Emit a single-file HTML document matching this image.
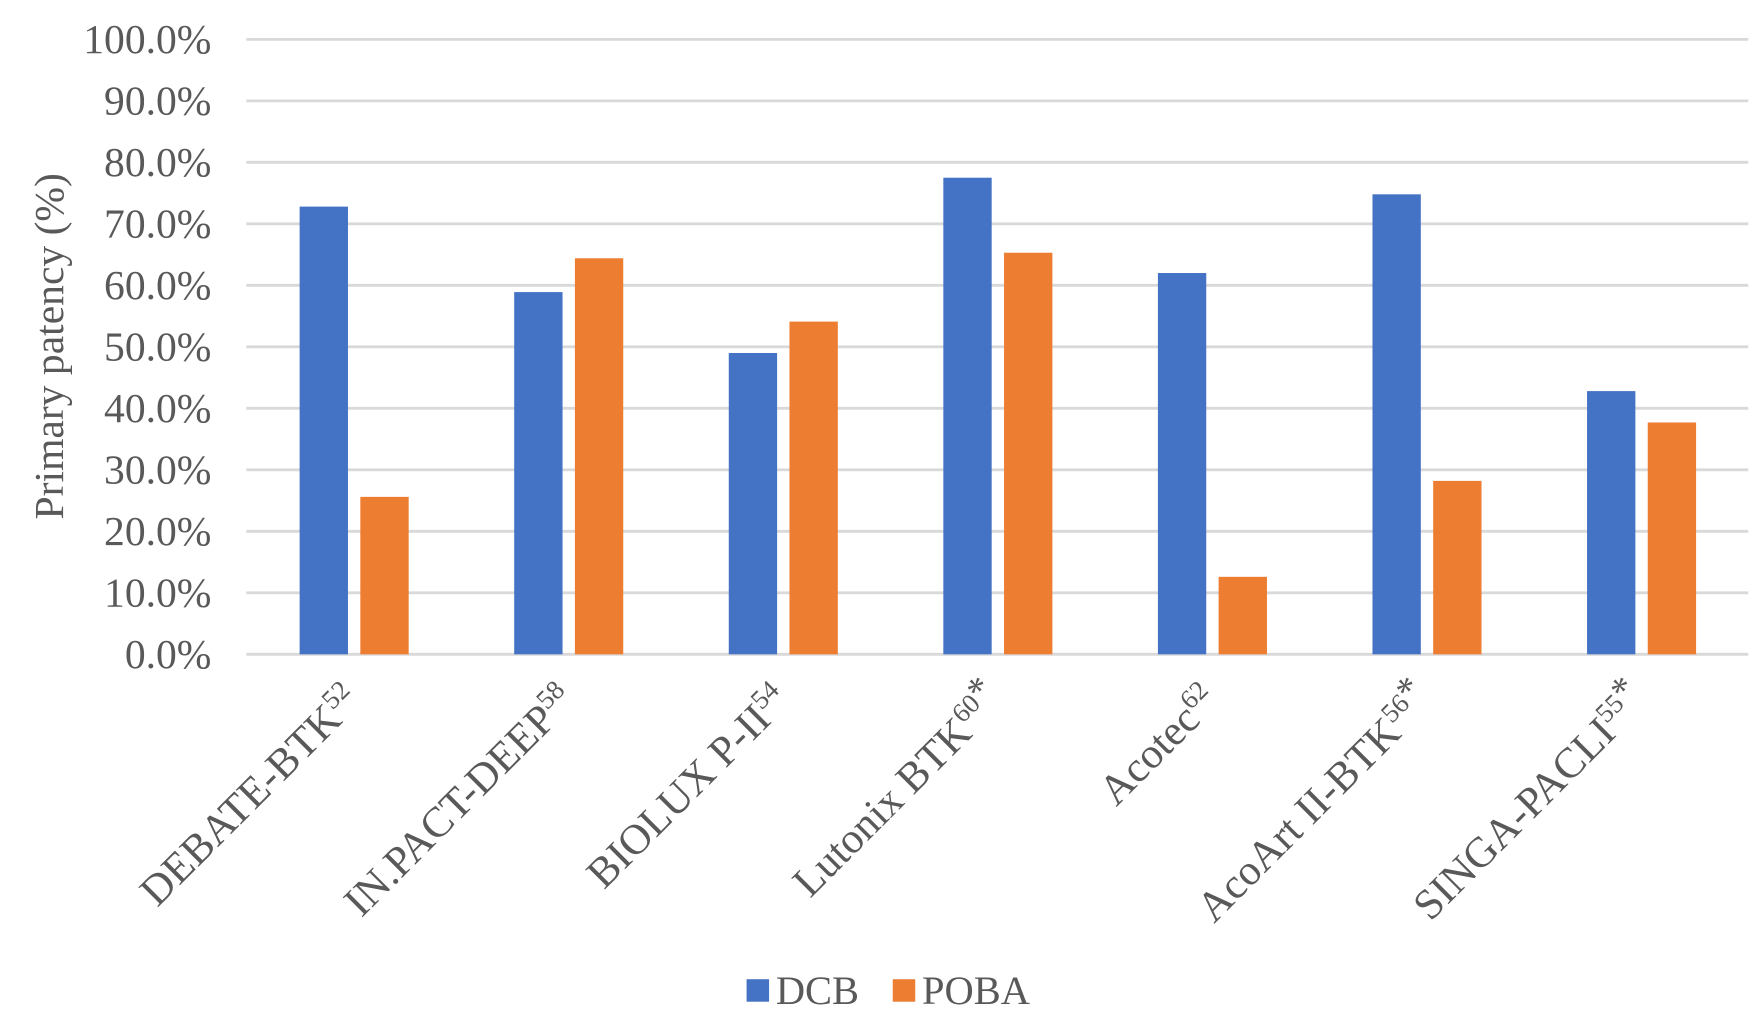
<!DOCTYPE html>
<html><head><meta charset="utf-8"><style>
html,body{margin:0;padding:0;background:#fff;}
svg text{font-family:"Liberation Serif",serif;fill:#595959;}
</style></head><body>
<svg id="chart" width="1763" height="1018" viewBox="0 0 1568 905.5" xmlns="http://www.w3.org/2000/svg"></svg>
<script>
const categories = ["DEBATE-BTK","IN.PACT-DEEP","BIOLUX P-II","Lutonix BTK","Acotec","AcoArt II-BTK","SINGA-PACLI"];
const superscripts = ["52","58","54","60","62","56","55"];
const stars = ["","","","*","","*","*"];
const dcbValues = [72.8, 58.9, 49.0, 77.5, 62.0, 74.8, 42.8];
const pobaValues = [25.6, 64.4, 54.1, 65.3, 12.6, 28.2, 37.7];
const yTicks = [0,10,20,30,40,50,60,70,80,90,100];

const svg = document.getElementById('chart');
const NS = 'http://www.w3.org/2000/svg';
const x0 = 219, x1 = 1555, yTop = 35, yBot = 582;
const yScale = v => yBot - (v/100)*(yBot-yTop);
const band = (x1-x0)/categories.length;
const xCenter = i => x0 + band*(i+0.5);
function mk(tag, attrs){const e=document.createElementNS(NS,tag);for(const k in attrs)e.setAttribute(k,attrs[k]);svg.appendChild(e);return e;}

yTicks.forEach(t=>{
  const g = mk('line',{x1:x0,x2:x1,y1:yScale(t),y2:yScale(t),stroke:'#d9d9d9','stroke-width':2.5});
  
  
  const tx = mk('text',{x:188,y:yScale(t)+12,'text-anchor':'end','font-size':37});
  tx.textContent = t.toFixed(1)+'%';
  
  
});

const barW = 43;
categories.forEach((c,i)=>{
  const cx = xCenter(i);
  const b1 = mk('rect',{x:cx-48,y:yScale(dcbValues[i]),width:barW,height:yBot-yScale(dcbValues[i]),fill:'#4472c4'});
  
  
  const b2 = mk('rect',{x:cx+6,y:yScale(pobaValues[i]),width:barW,height:yBot-yScale(pobaValues[i]),fill:'#ed7d31'});
  
  
  const lx = cx+8, ly = 625;
  const t = mk('text',{x:lx,y:ly,'text-anchor':'end','font-size':38,transform:`rotate(-45 ${lx} ${ly})`});
  
  
  const s1=document.createElementNS(NS,'tspan'); s1.textContent=c; t.appendChild(s1);
  const s2=document.createElementNS(NS,'tspan'); s2.setAttribute('font-size','24'); s2.setAttribute('dy','-14'); s2.textContent=superscripts[i]; t.appendChild(s2);
  if(stars[i]){const s3=document.createElementNS(NS,'tspan'); s3.setAttribute('font-size','34'); s3.textContent=stars[i]; t.appendChild(s3);}
});

const yl = mk('text',{x:56,y:308,'text-anchor':'middle','font-size':37,transform:'rotate(-90 56 308)'});
yl.textContent='Primary patency (%)';



const l1 = mk('rect',{x:664,y:871,width:20,height:20,fill:'#4472c4'});


const lt1 = mk('text',{x:690,y:893,'font-size':36}); lt1.textContent='DCB';


const l2 = mk('rect',{x:794,y:871,width:20,height:20,fill:'#ed7d31'});


const lt2 = mk('text',{x:820,y:893,'font-size':36}); lt2.textContent='POBA';


</script>
</body></html>
